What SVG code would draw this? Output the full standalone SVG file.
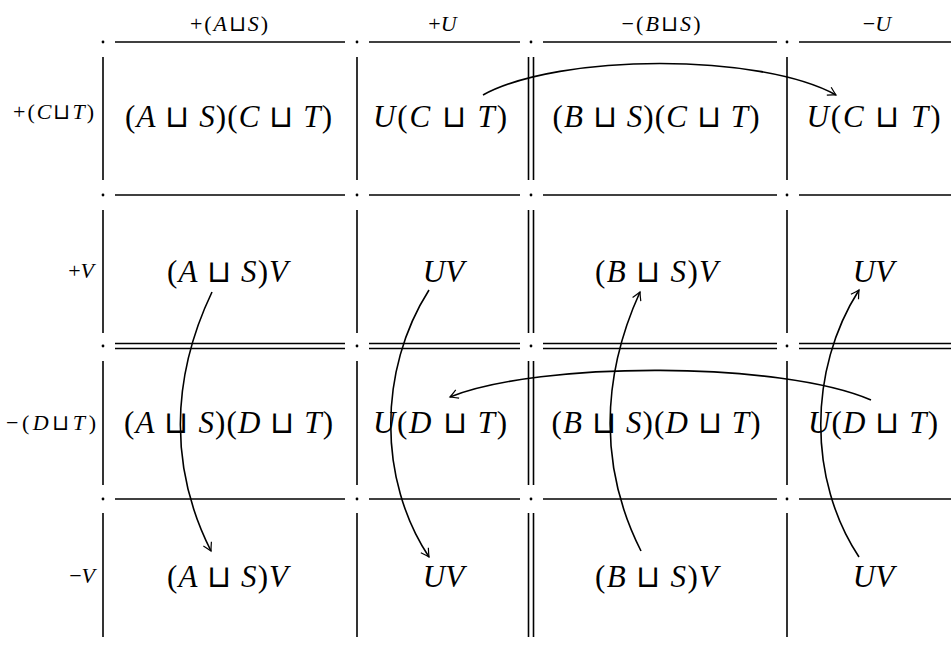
<svg xmlns="http://www.w3.org/2000/svg" width="951" height="646" viewBox="0 0 951 646">
<defs>
<style>
text{font-family:"Liberation Serif","DejaVu Serif",serif;fill:#000}
.m{font-size:31px;text-anchor:middle}
.h{font-size:22px;text-anchor:middle}
.l{font-size:22px;text-anchor:end}
.i{font-style:italic}
.o{font-family:"DejaVu Sans",sans-serif;font-weight:200}
.g line{stroke:#000;stroke-width:1.6}
.g circle{fill:#000}
.c path{fill:none;stroke:#000;stroke-width:1.6}
</style>
<marker id="ah" markerUnits="userSpaceOnUse" markerWidth="20" markerHeight="20" refX="0" refY="0" viewBox="-10 -10 20 20" orient="auto" overflow="visible">
<path d="M-8,-4.5 Q-3,-1.5 0,0 Q-3,1.5 -8,4.5" fill="none" stroke="#000" stroke-width="1.2"/>
</marker>
</defs>
<rect width="951" height="646" fill="#fff"/>

<g id="grid" class="g">
<line x1="115" y1="42" x2="345" y2="42"/><line x1="369" y1="42" x2="520" y2="42"/><line x1="543" y1="42" x2="777" y2="42"/><line x1="799" y1="42" x2="951" y2="42"/>
<line x1="115" y1="195" x2="345" y2="195"/><line x1="369" y1="195" x2="520" y2="195"/><line x1="543" y1="195" x2="777" y2="195"/><line x1="799" y1="195" x2="951" y2="195"/>
<line x1="115" y1="499" x2="345" y2="499"/><line x1="369" y1="499" x2="520" y2="499"/><line x1="543" y1="499" x2="777" y2="499"/><line x1="799" y1="499" x2="951" y2="499"/>
<line x1="115" y1="343.5" x2="345" y2="343.5"/><line x1="369" y1="343.5" x2="520" y2="343.5"/><line x1="543" y1="343.5" x2="777" y2="343.5"/><line x1="799" y1="343.5" x2="951" y2="343.5"/>
<line x1="115" y1="348.5" x2="345" y2="348.5"/><line x1="369" y1="348.5" x2="520" y2="348.5"/><line x1="543" y1="348.5" x2="777" y2="348.5"/><line x1="799" y1="348.5" x2="951" y2="348.5"/>
<line x1="103" y1="57" x2="103" y2="180"/><line x1="103" y1="210" x2="103" y2="333"/><line x1="103" y1="361" x2="103" y2="485"/><line x1="103" y1="513" x2="103" y2="637"/>
<line x1="357" y1="57" x2="357" y2="180"/><line x1="357" y1="210" x2="357" y2="333"/><line x1="357" y1="361" x2="357" y2="485"/><line x1="357" y1="513" x2="357" y2="637"/>
<line x1="787" y1="57" x2="787" y2="180"/><line x1="787" y1="210" x2="787" y2="333"/><line x1="787" y1="361" x2="787" y2="485"/><line x1="787" y1="513" x2="787" y2="637"/>
<line x1="528.5" y1="57" x2="528.5" y2="180"/><line x1="528.5" y1="210" x2="528.5" y2="333"/><line x1="528.5" y1="361" x2="528.5" y2="485"/><line x1="528.5" y1="513" x2="528.5" y2="637"/>
<line x1="533.5" y1="57" x2="533.5" y2="180"/><line x1="533.5" y1="210" x2="533.5" y2="333"/><line x1="533.5" y1="361" x2="533.5" y2="485"/><line x1="533.5" y1="513" x2="533.5" y2="637"/>
<circle cx="103" cy="42" r="1.4"/><circle cx="357" cy="42" r="1.4"/><circle cx="531" cy="42" r="1.4"/><circle cx="787" cy="42" r="1.4"/>
<circle cx="103" cy="195" r="1.4"/><circle cx="357" cy="195" r="1.4"/><circle cx="531" cy="195" r="1.4"/><circle cx="787" cy="195" r="1.4"/>
<circle cx="103" cy="346" r="1.4"/><circle cx="357" cy="346" r="1.4"/><circle cx="531" cy="346" r="1.4"/><circle cx="787" cy="346" r="1.4"/>
<circle cx="103" cy="499" r="1.4"/><circle cx="357" cy="499" r="1.4"/><circle cx="531" cy="499" r="1.4"/><circle cx="787" cy="499" r="1.4"/>
</g>

<g id="headers">
<text class="h" x="229" y="31" textLength="78" lengthAdjust="spacing">+(<tspan class="i">A</tspan><tspan class="o">⊔</tspan><tspan class="i">S</tspan>)</text>
<text class="h" x="442.5" y="31">+<tspan class="i">U</tspan></text>
<text class="h" x="661" y="31" textLength="79" lengthAdjust="spacing">−(<tspan class="i">B</tspan><tspan class="o">⊔</tspan><tspan class="i">S</tspan>)</text>
<text class="h" x="877" y="31">−<tspan class="i">U</tspan></text>
</g>

<g id="rowlabels">
<text class="l" x="94" y="119" textLength="81" lengthAdjust="spacing">+(<tspan class="i">C</tspan><tspan class="o">⊔</tspan><tspan class="i">T</tspan>)</text>
<text class="l" x="94" y="278">+<tspan class="i">V</tspan></text>
<text class="l" x="96" y="430" textLength="90" lengthAdjust="spacing">−(<tspan class="i">D</tspan><tspan class="o">⊔</tspan><tspan class="i">T</tspan>)</text>
<text class="l" x="95" y="583">−<tspan class="i">V</tspan></text>
</g>

<g id="r1c1"><text class="m" x="228.5" y="127" textLength="207" lengthAdjust="spacing">(<tspan class="i">A</tspan> <tspan class="o">⊔</tspan> <tspan class="i">S</tspan>)(<tspan class="i">C</tspan> <tspan class="o">⊔</tspan> <tspan class="i">T</tspan>)</text></g>
<g id="r1c2"><text class="m" x="440" y="127" textLength="134" lengthAdjust="spacing"><tspan class="i">U</tspan>(<tspan class="i">C</tspan> <tspan class="o">⊔</tspan> <tspan class="i">T</tspan>)</text></g>
<g id="r1c3"><text class="m" x="656" y="127" textLength="207" lengthAdjust="spacing">(<tspan class="i">B</tspan> <tspan class="o">⊔</tspan> <tspan class="i">S</tspan>)(<tspan class="i">C</tspan> <tspan class="o">⊔</tspan> <tspan class="i">T</tspan>)</text></g>
<g id="r1c4"><text class="m" x="873.5" y="127" textLength="134" lengthAdjust="spacing"><tspan class="i">U</tspan>(<tspan class="i">C</tspan> <tspan class="o">⊔</tspan> <tspan class="i">T</tspan>)</text></g>

<g id="r2c1"><text class="m" x="227.5" y="282" textLength="121" lengthAdjust="spacing">(<tspan class="i">A</tspan> <tspan class="o">⊔</tspan> <tspan class="i">S</tspan>)<tspan class="i">V</tspan></text></g>
<g id="r2c2"><text class="m" x="443.5" y="282"><tspan class="i">UV</tspan></text></g>
<g id="r2c3"><text class="m" x="656.5" y="282" textLength="123" lengthAdjust="spacing">(<tspan class="i">B</tspan> <tspan class="o">⊔</tspan> <tspan class="i">S</tspan>)<tspan class="i">V</tspan></text></g>
<g id="r2c4"><text class="m" x="873.5" y="282"><tspan class="i">UV</tspan></text></g>

<g id="r3c1"><text class="m" x="228.5" y="433" textLength="209" lengthAdjust="spacing">(<tspan class="i">A</tspan> <tspan class="o">⊔</tspan> <tspan class="i">S</tspan>)(<tspan class="i">D</tspan> <tspan class="o">⊔</tspan> <tspan class="i">T</tspan>)</text></g>
<g id="r3c2"><text class="m" x="440" y="433" textLength="134" lengthAdjust="spacing"><tspan class="i">U</tspan>(<tspan class="i">D</tspan> <tspan class="o">⊔</tspan> <tspan class="i">T</tspan>)</text></g>
<g id="r3c3"><text class="m" x="656" y="433" textLength="209" lengthAdjust="spacing">(<tspan class="i">B</tspan> <tspan class="o">⊔</tspan> <tspan class="i">S</tspan>)(<tspan class="i">D</tspan> <tspan class="o">⊔</tspan> <tspan class="i">T</tspan>)</text></g>
<g id="r3c4"><text class="m" x="873" y="433" textLength="130" lengthAdjust="spacing"><tspan class="i">U</tspan>(<tspan class="i">D</tspan> <tspan class="o">⊔</tspan> <tspan class="i">T</tspan>)</text></g>

<g id="r4c1"><text class="m" x="227.5" y="587" textLength="121" lengthAdjust="spacing">(<tspan class="i">A</tspan> <tspan class="o">⊔</tspan> <tspan class="i">S</tspan>)<tspan class="i">V</tspan></text></g>
<g id="r4c2"><text class="m" x="443.5" y="587"><tspan class="i">UV</tspan></text></g>
<g id="r4c3"><text class="m" x="656.5" y="587" textLength="123" lengthAdjust="spacing">(<tspan class="i">B</tspan> <tspan class="o">⊔</tspan> <tspan class="i">S</tspan>)<tspan class="i">V</tspan></text></g>
<g id="r4c4"><text class="m" x="873.5" y="587"><tspan class="i">UV</tspan></text></g>

<g id="connectors" class="c">
<path d="M483,95 C560,53 760,53 836,95" marker-end="url(#ah)"/>
<path d="M212,292 C170,380 170,470 211,551" marker-end="url(#ah)"/>
<path d="M429,290 C378,370 378,480 429,557" marker-end="url(#ah)"/>
<path d="M641,551 C600,470 600,380 640,292" marker-end="url(#ah)"/>
<path d="M859,557 C808,480 808,370 859,290" marker-end="url(#ah)"/>
<path d="M871,400 C780,361 540,361 450,397" marker-end="url(#ah)"/>
</g>
</svg>
